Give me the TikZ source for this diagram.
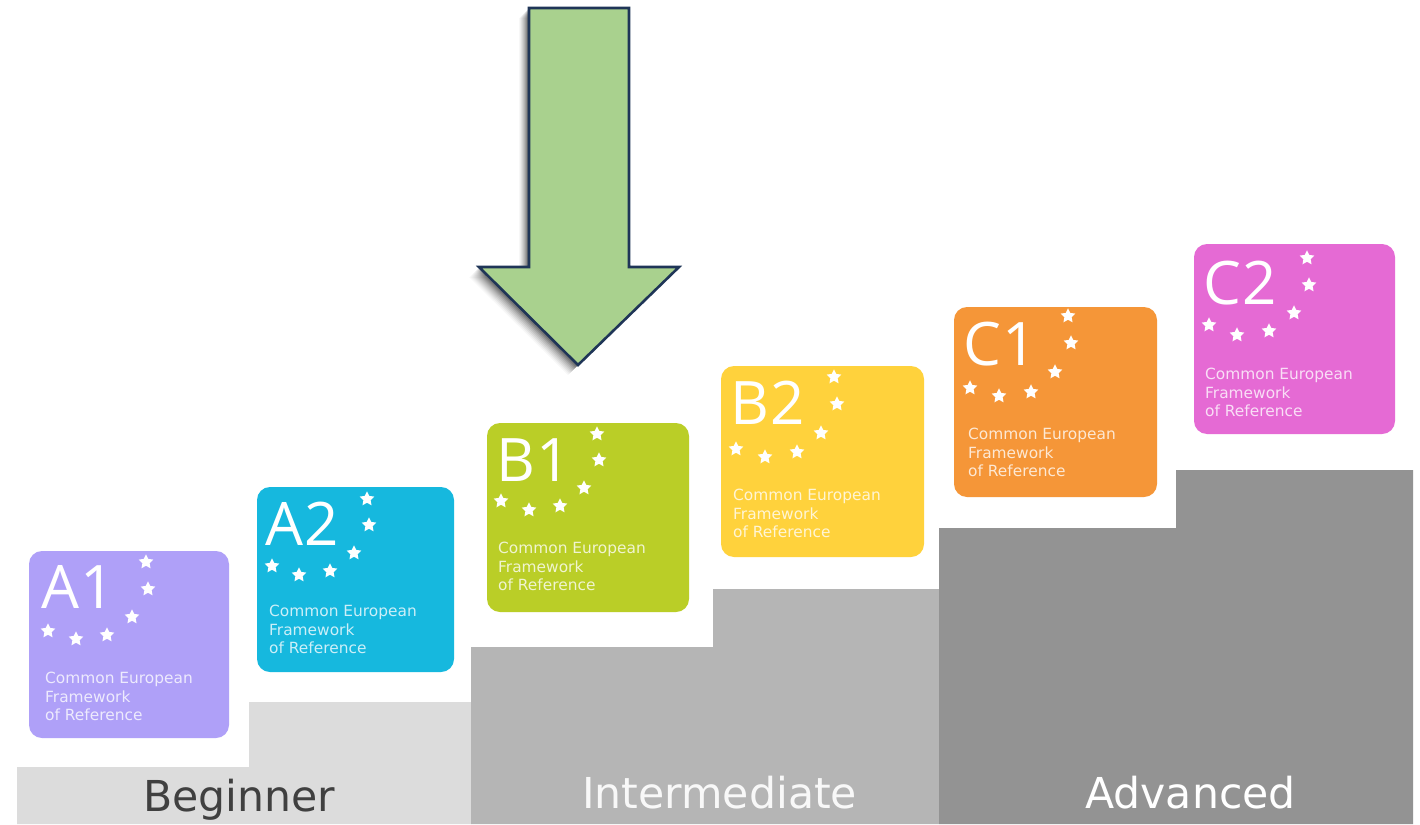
\documentclass[tikz,border=0pt]{standalone}
\usepackage{fontspec}
\setmainfont{Open Sans}
\newfontfamily\labelfont{DejaVu Sans}
\usetikzlibrary{shapes.geometric}
\definecolor{cA1}{HTML}{AFA0F8}
\definecolor{cA2}{HTML}{16B8DE}
\definecolor{cB1}{HTML}{BACE27}
\definecolor{cB2}{HTML}{FFD23C}
\definecolor{cC1}{HTML}{F59638}
\definecolor{cC2}{HTML}{E56AD4}
\definecolor{stepa}{HTML}{DCDCDC}
\definecolor{stepb}{HTML}{B5B5B5}
\definecolor{stepc}{HTML}{939393}
\definecolor{arrowfill}{HTML}{A9D18E}
\definecolor{arrowline}{HTML}{1F3557}
\tikzset{
  x=1pt,y=-1pt,
  level/.style={text=white,font=\fontsize{60}{60}\selectfont\addfontfeature{LetterSpace=2},anchor=base west,inner sep=0pt},
  small/.style={font=\labelfont\fontsize{15.4}{18.5}\selectfont,anchor=north west,inner sep=0pt,align=left},
  stepname/.style={font=\labelfont\fontsize{42.6}{42.6}\selectfont,anchor=base west,inner sep=0pt},
  wstar/.style={star,star points=5,star point ratio=2.05,fill=white,draw=none,minimum size=15.5pt,inner sep=0pt},
  cardshape/.style={rounded corners=13pt,draw=none},
}
\newcommand{\arrowpath}{(529,8) -- (629,8) -- (629,267) -- (679,267) -- (578,365) -- (479,267) -- (529,267) -- cycle}
% name, colour, corner, corner, level position, text position, star positions
\newcommand{\cardbox}[7]{%
  \fill[#2,cardshape] (#3) rectangle (#4);
  \node[level] (#1lab) at (#5) {#1};
  \node[small,text=white!78!#2] (#1txt) at (#6) {Common European\\Framework\\of Reference};
  \foreach \sx/\sy [count=\si] in {#7} {\node[wstar] (#1s\si) at (\sx,\sy) {};}
}
\begin{document}
\begin{tikzpicture}
\useasboundingbox (0,0) rectangle (1420,824);
\fill[white] (0,0) rectangle (1420,824);
% steps
\fill[stepa] (17,824) -- (17,767) -- (249,767) -- (249,702) -- (471,702) -- (471,824) -- cycle;
\fill[stepb] (471,824) -- (471,647) -- (713,647) -- (713,589) -- (939,589) -- (939,824) -- cycle;
\fill[stepc] (939,824) -- (939,528) -- (1176,528) -- (1176,470) -- (1413,470) -- (1413,824) -- cycle;
\node[stepname,text=black!75] (beg) at (143,811) {Beginner};
\node[stepname,text=white!90!stepb] (int) at (582,808) {Intermediate};
\node[stepname,text=white] (adv) at (1085,808) {Advanced};
% cards
\cardbox{A1}{cA1}{29,551}{229,738}{41,608}{45,672}{146/562,148/589,132/617,48/631,76/639,107/635}
\cardbox{A2}{cA2}{257,487}{454,672}{265,545}{269,605}{367/499,369/525,354/553,272/566,299/575,330/571}
\cardbox{B1}{cB1}{487,423}{689,612}{496,481}{498,542}{597/434,599/460,584/488,501/501,529/510,560/506}
\cardbox{B2}{cB2}{721,366}{924,557}{730,424}{733,489}{834/377,837/404,821/433,736/449,765/457,797/452}
\cardbox{C1}{cC1}{954,307}{1157,497}{963,365}{968,428}{1068/316,1071/343,1055/372,970/388,999/396,1031/392}
\cardbox{C2}{cC2}{1194,244}{1395,434}{1203,304}{1205,368}{1307/258,1309/285,1294/313,1209/325,1237/335,1269/331}
% arrow shadow
\foreach \d/\o in {10/0.03,9/0.04,8/0.05,7/0.06,6/0.07,5/0.08,4/0.10,3/0.12,2/0.14}{
  \fill[black,opacity=\o,shift={(-\d,\d)}] \arrowpath;
}
\filldraw[fill=arrowfill,draw=arrowline,line width=2.6pt,miter limit=10] \arrowpath;
\end{tikzpicture}
\end{document}
